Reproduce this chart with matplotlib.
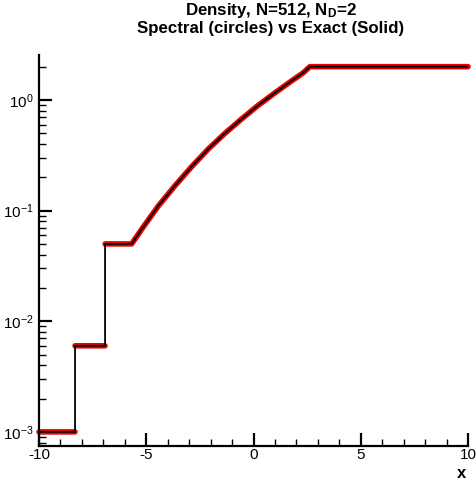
import numpy as np
import matplotlib
matplotlib.use("Agg")
import matplotlib.pyplot as plt
from matplotlib.ticker import LogLocator, MultipleLocator, FixedLocator

plt.rcParams['font.family'] = ['Liberation Sans', 'DejaVu Sans']
plt.rcParams['mathtext.fontset'] = 'custom'
plt.rcParams['mathtext.rm'] = 'Liberation Sans'
plt.rcParams['mathtext.it'] = 'Liberation Sans:italic'
plt.rcParams['mathtext.bf'] = 'Liberation Sans:bold'

# Exact density profile: three constant states, a rarefaction fan, and the right state
x_exact = [-10.0, -8.32, -8.32, -6.92, -6.92, -5.68,
           -5.21, -4.44, -3.66, -2.88, -2.11, -1.33, -0.55,
           0.22, 1.00, 1.78, 2.30, 2.63, 10.0]
rho_exact = [0.001, 0.001, 0.006, 0.006, 0.05, 0.05,
             0.068, 0.110, 0.168, 0.250, 0.360, 0.500, 0.675,
             0.895, 1.16, 1.49, 1.75, 2.0, 2.0]

x_ticks = [-10, -5, 0, 5, 10]
y_ticks = [1e-3, 1e-2, 1e-1, 1e0]

fig = plt.figure(figsize=(4.76, 4.84), dpi=100)
ax = fig.add_axes([39/476, 1 - 445.7/484, (468 - 39)/476, (445.7 - 55)/484])

# Spectral samples: same profile, broken at the discontinuities
xs = np.array(x_exact, dtype=float)
rs = np.array(rho_exact, dtype=float)
xr, rr = [], []
for i in range(len(xs)):
    if i > 0 and xs[i] == xs[i - 1]:
        xr.append(np.nan)
        rr.append(np.nan)
    xr.append(xs[i])
    rr.append(rs[i])
ax.plot(xr, rr, color='#e80000', lw=4.0, solid_capstyle='round',
        solid_joinstyle='round', zorder=2, clip_on=False)
ax.plot(xs, rs, color='black', lw=1.3, zorder=3, solid_joinstyle='round')

ax.set_yscale('log')
ax.set_xlim(-10, 10)
ax.set_ylim(7.5e-4, 2.55)

ax.xaxis.set_major_locator(FixedLocator(x_ticks))
ax.xaxis.set_minor_locator(MultipleLocator(1))
ax.yaxis.set_major_locator(FixedLocator(y_ticks))
ax.yaxis.set_minor_locator(LogLocator(base=10, subs=np.arange(2, 10)))
ax.set_xticklabels([str(v) for v in x_ticks])

for s in ['top', 'right']:
    ax.spines[s].set_visible(False)
for s in ['left', 'bottom']:
    ax.spines[s].set_linewidth(1.6)

ax.tick_params(axis='both', which='major', direction='in', length=9.5,
               width=1.6, labelsize=11, pad=4)
ax.tick_params(axis='both', which='minor', direction='in', length=5,
               width=1.0)
ax.tick_params(axis='x', which='major', pad=2)

fig.text(271/476, 1 - 11/484, 'Density, N=512, N$_\\mathregular{D}$=2',
         ha='center', va='center', fontsize=12.2, fontweight='bold')
fig.text(271/476, 1 - 29/484, 'Spectral (circles) vs Exact (Solid)',
         ha='center', va='center', fontsize=12.2, fontweight='bold')
fig.text(462/476, 1 - 473/484, 'x', ha='center', va='center',
         fontsize=12, fontweight='bold')

fig.savefig('out.png', dpi=100, facecolor='white')
